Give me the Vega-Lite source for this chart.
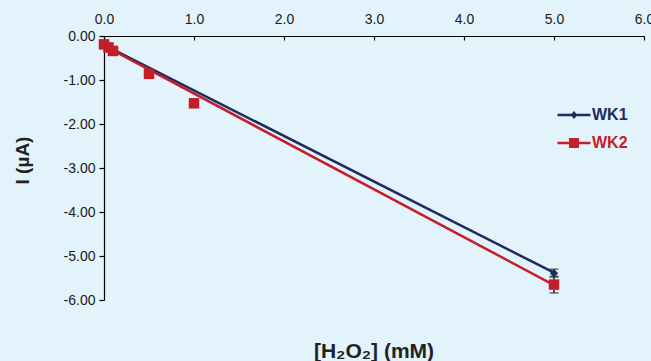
{
 "$schema": "https://vega.github.io/schema/vega-lite/v6.json",
 "width": 540,
 "height": 264,
 "autosize": "none",
 "padding": {"left": 104, "top": 36, "right": 7, "bottom": 61},
 "background": "#e2f3fb",
 "config": {
  "view": {"stroke": null},
  "font": "Liberation Sans",
  "axis": {"grid": false, "domainColor": "#000", "tickColor": "#000", "labelColor": "#1a1a1a", "labelFontSize": 14, "titleFontSize": 16, "titleFontWeight": "bold", "titleColor": "#222", "domainWidth": 1.2, "tickWidth": 1.2, "tickSize": 5, "labelPadding": 4, "labelFlush": false}
 },
 "title": {"text": "[H₂O₂] (mM)", "orient": "bottom", "fontSize": 21, "fontWeight": "bold", "offset": 34, "anchor": "middle", "color": "#222", "font": "Liberation Sans"},
 "datasets": {
  "pts": [
   {"series": "WK1", "conc": 0, "current": -0.2, "lo": -0.22, "hi": -0.18},
   {"series": "WK1", "conc": 0.05, "current": -0.27, "lo": -0.29, "hi": -0.25},
   {"series": "WK1", "conc": 0.1, "current": -0.33, "lo": -0.35, "hi": -0.31},
   {"series": "WK1", "conc": 0.5, "current": -0.85, "lo": -0.88, "hi": -0.82},
   {"series": "WK1", "conc": 1, "current": -1.5, "lo": -1.54, "hi": -1.46},
   {"series": "WK1", "conc": 5, "current": -5.39, "lo": -5.48, "hi": -5.3},
   {"series": "WK2", "conc": 0, "current": -0.19, "lo": -0.21, "hi": -0.17},
   {"series": "WK2", "conc": 0.05, "current": -0.26, "lo": -0.28, "hi": -0.24},
   {"series": "WK2", "conc": 0.1, "current": -0.34, "lo": -0.36, "hi": -0.32},
   {"series": "WK2", "conc": 0.5, "current": -0.86, "lo": -0.89, "hi": -0.83},
   {"series": "WK2", "conc": 1, "current": -1.53, "lo": -1.57, "hi": -1.49},
   {"series": "WK2", "conc": 5, "current": -5.65, "lo": -5.84, "hi": -5.46}
  ],
  "trend": [
   {"series": "WK1", "conc": 0, "current": -0.2},
   {"series": "WK1", "conc": 5, "current": -5.38},
   {"series": "WK2", "conc": 0, "current": -0.22},
   {"series": "WK2", "conc": 5, "current": -5.66}
  ]
 },
 "layer": [
  {
   "data": {"name": "trend"},
   "mark": {"type": "line", "strokeWidth": 2.5},
   "encoding": {
    "x": {"field": "conc", "type": "quantitative", "scale": {"domain": [0, 6]}, "axis": {"orient": "top", "title": null, "values": [0, 1, 2, 3, 4, 5, 6], "format": ".1f", "tickSize": -4, "labelPadding": 14}},
    "y": {"field": "current", "type": "quantitative", "title": "I (µA)", "scale": {"domain": [-6, 0]}, "axis": {"title": "I (µA)", "titleFontSize": 19, "titleY": 124, "values": [0, -1, -2, -3, -4, -5, -6], "format": ".2f", "labelExpr": "replace(datum.label, '−', '-')", "titlePadding": 31}},
    "color": {"field": "series", "type": "nominal", "scale": {"domain": ["WK1", "WK2"], "range": ["#1f2a5e", "#c41e2a"]},
     "legend": {"orient": "none", "legendX": 459, "legendY": 68, "padding": 0, "title": null, "symbolSize": 484, "rowPadding": 9, "labelOffset": 7, "labelFontSize": 16, "labelFontWeight": "bold", "labelFont": "Liberation Sans",
      "encode": {
       "symbols": {"update": {
        "shape": {"signal": "datum.value == 'WK1' ? 'M-1.5,-0.11H1.5V0.11H-1.5Z M0,-0.36L0.3,0L0,0.36L-0.3,0Z' : 'M-1.5,-0.11H1.5V0.11H-1.5Z M-0.45,-0.45H0.45V0.45H-0.45Z'"},
        "fill": {"signal": "datum.value == 'WK1' ? '#1f2a5e' : '#c41e2a'"},
        "fillOpacity": {"value": 1},
        "strokeWidth": {"value": 0}
       }},
       "labels": {"update": {"fill": {"signal": "datum.value == 'WK1' ? '#1f2a5e' : '#c41e2a'"}}}
      }}
    }
   }
  },
  {
   "data": {"name": "pts"},
   "mark": {"type": "errorbar", "ticks": {"size": 9, "color": "#333", "strokeWidth": 2}, "color": "#222", "thickness": 1.5},
   "encoding": {
    "x": {"field": "conc", "type": "quantitative"},
    "y": {"field": "lo", "type": "quantitative", "title": "I (µA)"},
    "y2": {"field": "hi"}
   }
  },
  {
   "data": {"name": "pts"},
   "transform": [{"filter": "datum.series == 'WK1'"}],
   "mark": {"type": "point", "filled": true, "opacity": 1, "shape": "diamond", "size": 70, "color": "#1f2a5e"},
   "encoding": {
    "x": {"field": "conc", "type": "quantitative"},
    "y": {"field": "current", "type": "quantitative", "title": "I (µA)"}
   }
  },
  {
   "data": {"name": "pts"},
   "transform": [{"filter": "datum.series == 'WK2'"}],
   "mark": {"type": "point", "filled": true, "opacity": 1, "shape": "square", "size": 110, "color": "#c41e2a"},
   "encoding": {
    "x": {"field": "conc", "type": "quantitative"},
    "y": {"field": "current", "type": "quantitative", "title": "I (µA)"}
   }
  }
 ]
}
